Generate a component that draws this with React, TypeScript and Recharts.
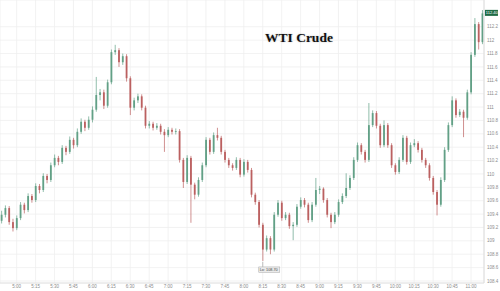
import { Bar, CartesianGrid, ComposedChart, ReferenceDot, XAxis, YAxis } from "recharts"

// 3-minute candles, time in minutes after midnight
const times = [
  288, 291, 294, 297, 300, 303, 306, 309, 312, 315, 318, 321, 324, 327, 330, 333,
  336, 339, 342, 345, 348, 351, 354, 357, 360, 363, 366, 369, 372, 375, 378, 381,
  384, 387, 390, 393, 396, 399, 402, 405, 408, 411, 414, 417, 420, 423, 426, 429,
  432, 435, 438, 441, 444, 447, 450, 453, 456, 459, 462, 465, 468, 471, 474, 477,
  480, 483, 486, 489, 492, 495, 498, 501, 504, 507, 510, 513, 516, 519, 522, 525,
  528, 531, 534, 537, 540, 543, 546, 549, 552, 555, 558, 561, 564, 567, 570, 573,
  576, 579, 582, 585, 588, 591, 594, 597, 600, 603, 606, 609, 612, 615, 618, 621,
  624, 627, 630, 633, 636, 639, 642, 645, 648, 651, 654, 657, 660, 663, 666, 669,
]

const opens = [
  109.30, 109.39, 109.49, 109.28, 109.19, 109.34, 109.54, 109.46, 109.67, 109.61,
  109.82, 109.76, 109.97, 109.91, 110.13, 110.24, 110.18, 110.39, 110.33, 110.51,
  110.43, 110.63, 110.78, 110.69, 110.81, 110.96, 111.18, 111.22, 111.02, 111.37,
  111.82, 111.85, 111.67, 111.76, 111.43, 110.99, 111.10, 111.16, 110.99, 110.72,
  110.75, 110.69, 110.72, 110.63, 110.58, 110.66, 110.63, 110.64, 110.21, 109.88,
  110.24, 109.84, 109.69, 109.91, 110.13, 110.51, 110.33, 110.58, 110.54, 110.33,
  110.21, 110.13, 110.09, 110.21, 109.99, 110.18, 110.06, 109.69, 109.58, 109.24,
  108.87, 109.04, 108.87, 109.39, 109.57, 109.34, 109.39, 109.22, 109.24, 109.51,
  109.61, 109.54, 109.31, 109.54, 109.76, 109.78, 109.61, 109.39, 109.28, 109.39,
  109.58, 109.67, 109.79, 109.94, 110.21, 110.43, 110.33, 110.21, 110.73, 110.91,
  110.72, 110.43, 110.73, 110.43, 110.13, 110.03, 110.21, 110.54, 110.18, 110.43,
  110.46, 110.36, 110.21, 110.13, 109.94, 109.73, 109.54, 109.91, 110.36, 110.73,
  111.10, 110.88, 110.93, 110.84, 111.22, 111.78, 112.24, 111.97,
]

const highs = [
  109.45, 109.53, 109.52, 109.33, 109.38, 109.58, 109.57, 109.71, 109.70, 109.86,
  109.85, 110.01, 110.00, 110.17, 110.29, 110.27, 110.43, 110.42, 110.56, 110.54,
  110.68, 110.83, 110.81, 110.86, 111.01, 111.45, 111.27, 111.26, 111.41, 111.86,
  111.93, 111.88, 111.80, 111.79, 111.46, 111.14, 111.20, 111.19, 111.02, 110.79,
  110.78, 110.76, 110.75, 110.67, 110.70, 110.69, 110.68, 110.67, 110.24, 110.28,
  110.27, 109.87, 109.95, 110.17, 110.55, 110.54, 110.62, 110.69, 110.57, 110.36,
  110.24, 110.16, 110.25, 110.24, 110.22, 110.21, 110.09, 109.72, 109.61, 109.27,
  109.08, 109.07, 109.43, 109.61, 109.60, 109.43, 109.42, 109.28, 109.55, 109.65,
  109.64, 109.57, 109.58, 109.94, 109.82, 109.80, 109.64, 109.42, 109.43, 109.62,
  109.71, 110.01, 109.98, 110.25, 110.47, 110.46, 110.36, 111.06, 110.95, 110.94,
  110.75, 110.80, 110.76, 110.46, 110.16, 110.25, 110.58, 110.57, 110.47, 110.52,
  110.49, 110.39, 110.24, 110.16, 109.97, 109.76, 109.95, 110.40, 110.77, 111.16,
  111.13, 110.97, 110.96, 111.26, 111.82, 112.33, 112.27, 112.45,
]

const lows = [
  109.26, 109.35, 109.24, 109.14, 109.16, 109.31, 109.41, 109.43, 109.57, 109.58,
  109.71, 109.73, 109.86, 109.88, 110.10, 110.13, 110.15, 110.28, 110.30, 110.38,
  110.40, 110.60, 110.64, 110.66, 110.77, 110.93, 111.10, 110.97, 110.99, 111.34,
  111.78, 111.60, 111.63, 111.38, 110.88, 110.95, 111.06, 110.95, 110.68, 110.68,
  110.65, 110.66, 110.59, 110.33, 110.55, 110.59, 110.59, 110.17, 109.79, 109.85,
  109.27, 109.62, 109.66, 109.88, 110.10, 110.29, 110.30, 110.50, 110.29, 110.17,
  110.09, 110.05, 110.06, 109.95, 109.96, 110.02, 109.65, 109.54, 109.20, 108.70,
  108.84, 108.80, 108.84, 109.36, 109.30, 109.31, 109.18, 109.01, 109.21, 109.48,
  109.50, 109.27, 109.28, 109.51, 109.70, 109.57, 109.35, 109.19, 109.25, 109.36,
  109.55, 109.64, 109.76, 109.91, 110.18, 110.29, 110.17, 110.18, 110.70, 110.68,
  110.39, 110.40, 110.39, 110.09, 109.99, 110.00, 110.18, 110.14, 110.15, 110.40,
  110.32, 110.17, 110.09, 109.90, 109.69, 109.38, 109.51, 109.88, 110.33, 110.70,
  110.84, 110.85, 110.55, 110.81, 111.19, 111.75, 111.86, 111.94,
]

const closes = [
  109.39, 109.49, 109.28, 109.19, 109.34, 109.54, 109.46, 109.67, 109.61, 109.82,
  109.76, 109.97, 109.91, 110.13, 110.24, 110.18, 110.39, 110.33, 110.51, 110.43,
  110.63, 110.78, 110.69, 110.81, 110.96, 111.18, 111.22, 111.02, 111.37, 111.82,
  111.85, 111.67, 111.76, 111.43, 110.99, 111.10, 111.16, 110.99, 110.72, 110.75,
  110.69, 110.72, 110.63, 110.58, 110.66, 110.63, 110.64, 110.21, 109.88, 110.24,
  109.84, 109.69, 109.91, 110.13, 110.51, 110.33, 110.58, 110.54, 110.33, 110.21,
  110.13, 110.09, 110.21, 109.99, 110.18, 110.06, 109.69, 109.58, 109.24, 108.87,
  109.04, 108.87, 109.39, 109.57, 109.34, 109.39, 109.22, 109.24, 109.51, 109.61,
  109.54, 109.31, 109.54, 109.76, 109.78, 109.61, 109.39, 109.28, 109.39, 109.58,
  109.67, 109.79, 109.94, 110.21, 110.43, 110.33, 110.21, 110.73, 110.91, 110.72,
  110.43, 110.73, 110.43, 110.13, 110.03, 110.21, 110.54, 110.18, 110.43, 110.46,
  110.36, 110.21, 110.13, 109.94, 109.73, 109.54, 109.91, 110.36, 110.73, 111.10,
  110.88, 110.93, 110.84, 111.22, 111.78, 112.24, 111.97, 112.40,
]

const xTicks = [300, 315, 330, 345, 360, 375, 390, 405, 420, 435, 450, 465, 480, 495, 510, 525, 540, 555, 570, 585, 600, 615, 630, 645, 660]
const xTickLabels = ["5:00", "5:15", "5:30", "5:45", "6:00", "6:15", "6:30", "6:45", "7:00", "7:15", "7:30", "7:45", "8:00", "8:15", "8:30", "8:45", "9:00", "9:15", "9:30", "9:45", "10:00", "10:15", "10:30", "10:45", "11:00"]
const yTicks = [108.4, 108.6, 108.8, 109, 109.2, 109.4, 109.6, 109.8, 110, 110.2, 110.4, 110.6, 110.8, 111, 111.2, 111.4, 111.6, 111.8, 112, 112.2]

const GREEN = "#62a086"
const RED = "#bb6060"

const candles = times.map((t, i) => ({
  t,
  o: opens[i],
  h: highs[i],
  l: lows[i],
  c: closes[i],
  range: [lows[i], highs[i]],
}))

const lowIdx = lows.indexOf(Math.min(...lows))
const lastIdx = closes.length - 1

const Candle = (props: any) => {
  const { x, y, width, height } = props
  const d = props.payload ?? props
  const { o, h, l, c } = d
  const color = c >= o ? GREEN : RED
  const top = Math.min(y, y + height)
  const H = Math.abs(height)
  const k = H / (h - l)
  const cx = x + width / 2
  const bodyTop = top + (h - Math.max(o, c)) * k
  const bodyH = Math.max(Math.abs(o - c) * k, 0.8)
  return (
    <g>
      <line x1={cx} x2={cx} y1={top} y2={top + H} stroke={color} strokeWidth={0.7} />
      <rect x={cx - 0.9} y={bodyTop} width={1.8} height={bodyH} fill={color} />
    </g>
  )
}

const LowTag = ({ cx, cy }: any) => (
  <g>
    <line x1={cx} x2={cx} y1={cy + 1} y2={cy + 6} stroke="#999" strokeWidth={0.6} />
    <rect x={cx - 4} y={cy + 6} width={21} height={5.5} fill="#eaeaea" stroke="#aaa" strokeWidth={0.5} />
    <text x={cx - 3} y={cy + 10.2} fontSize={3.8} fill="#444" fontFamily="Liberation Sans, Arial">
      {`Lo: ${lows[lowIdx].toFixed(2)}`}
    </text>
  </g>
)

const LastTag = ({ cx, cy }: any) => (
  <g>
    <rect x={cx + 2.6} y={cy - 3.5} width={13} height={6} fill="#1f6b44" />
    <text x={cx + 3.4} y={cy + 1.1} fontSize={4} fill="#fff" fontFamily="Liberation Sans, Arial">
      {closes[lastIdx].toFixed(2)}
    </text>
  </g>
)

const App = () => {
  return (
    <div style={{ position: "absolute", left: 0, top: 0, width: 500, height: 291, background: "#fff" }}>
      <ComposedChart width={500} height={291} data={candles} margin={{ top: 0, right: 0, bottom: 0, left: 0 }}>
        <CartesianGrid stroke="#efefef" strokeWidth={0.8} />
        <XAxis
          dataKey="t"
          type="number"
          domain={[286.8, 670.3]}
          allowDataOverflow
          ticks={xTicks}
          tickFormatter={(v) => xTickLabels[xTicks.indexOf(v)] ?? ""}
          height={8}
          tickLine={false}
          tickSize={0}
          tickMargin={2}
          axisLine={{ stroke: "#e2e2e2" }}
          tick={{ fontSize: 4.5, fill: "#8c8c8c", fontFamily: "Liberation Sans, Arial" }}
          interval={0}
        />
        <YAxis
          orientation="right"
          type="number"
          domain={[108.37, 112.6]}
          allowDataOverflow
          ticks={yTicks}
          tickFormatter={(v) => String(parseFloat(v.toFixed(1)))}
          width={16}
          tickLine={false}
          tickSize={0}
          tickMargin={3}
          axisLine={{ stroke: "#dcdcdc" }}
          tick={{ fontSize: 4.5, fill: "#8c8c8c", fontFamily: "Liberation Sans, Arial" }}
          interval={0}
        />
        <Bar dataKey="range" barSize={2} shape={<Candle />} isAnimationActive={false} />
        <ReferenceDot x={times[lowIdx]} y={lows[lowIdx]} r={0} ifOverflow="visible" shape={<LowTag />} />
        <ReferenceDot x={times[lastIdx]} y={closes[lastIdx]} r={0} ifOverflow="visible" shape={<LastTag />} />
      </ComposedChart>
      <div
        style={{
          position: "absolute",
          left: 265,
          top: 30.7,
          fontFamily: "'Liberation Serif', 'Times New Roman', serif",
          fontWeight: "bold",
          fontSize: 13.5,
          lineHeight: 1,
          color: "#111",
          textShadow: "0 0 2px rgba(0,0,0,0.25)",
          whiteSpace: "nowrap",
        }}
      >
        WTI Crude
      </div>
    </div>
  )
}

export default App
